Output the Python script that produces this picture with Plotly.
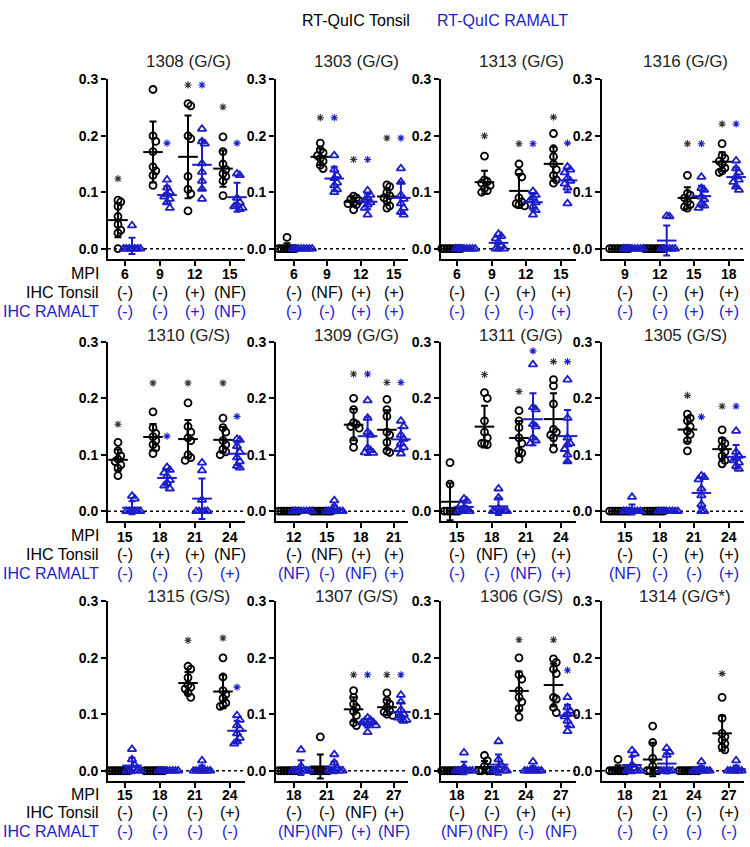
import numpy as np
import plotly.graph_objects as go

W, H = 750, 847
BLUE = "#1c1cc8"
BLACK = "#000000"
STAR_BLACK = "#333333"
FONT = "Liberation Sans, Arial, sans-serif"

# ---------------- data ----------------
panel_titles = ["1308 (G/G)", "1303 (G/G)", "1313 (G/G)", "1316 (G/G)",
                "1310 (G/S)", "1309 (G/G)", "1311 (G/G)", "1305 (G/S)",
                "1315 (G/S)", "1307 (G/S)", "1306 (G/S)", "1314 (G/G*)"]

mpi_labels = [[6, 9, 12, 15], [6, 9, 12, 15], [6, 9, 12, 15], [9, 12, 15, 18],
              [15, 18, 21, 24], [12, 15, 18, 21], [15, 18, 21, 24], [15, 18, 21, 24],
              [15, 18, 21, 24], [18, 21, 24, 27], [18, 21, 24, 27], [18, 21, 24, 27]]

ihc_tonsil = [["(-)", "(-)", "(+)", "(NF)"], ["(-)", "(NF)", "(+)", "(+)"],
              ["(-)", "(-)", "(+)", "(+)"], ["(-)", "(-)", "(+)", "(+)"],
              ["(-)", "(+)", "(+)", "(NF)"], ["(-)", "(NF)", "(+)", "(+)"],
              ["(-)", "(NF)", "(+)", "(+)"], ["(-)", "(-)", "(+)", "(+)"],
              ["(-)", "(-)", "(-)", "(+)"], ["(-)", "(-)", "(NF)", "(+)"],
              ["(-)", "(-)", "(+)", "(+)"], ["(-)", "(-)", "(-)", "(+)"]]

ihc_ramalt = [["(-)", "(-)", "(+)", "(NF)"], ["(-)", "(-)", "(+)", "(+)"],
              ["(-)", "(-)", "(-)", "(+)"], ["(-)", "(-)", "(+)", "(+)"],
              ["(-)", "(-)", "(-)", "(+)"], ["(NF)", "(-)", "(NF)", "(+)"],
              ["(-)", "(-)", "(NF)", "(+)"], ["(NF)", "(-)", "(-)", "(+)"],
              ["(-)", "(-)", "(-)", "(-)"], ["(NF)", "(NF)", "(+)", "(NF)"],
              ["(NF)", "(NF)", "(-)", "(NF)"], ["(-)", "(-)", "(-)", "(-)"]]

# RT-QuIC values (rate), 4 time points per animal
tonsil_1308 = [[0.086, 0.083, 0.075, 0.057, 0.043, 0.033, 0.028, 0.0],
               [0.282, 0.2, 0.19, 0.172, 0.145, 0.138, 0.13, 0.112],
               [0.257, 0.253, 0.2, 0.195, 0.128, 0.105, 0.097, 0.067],
               [0.198, 0.172, 0.15, 0.14, 0.133, 0.128, 0.12, 0.094]]
ramalt_1308 = [[0.041, 0.0, 0.0, 0.0, 0.0, 0.0, 0.0, 0.0],
               [0.122, 0.108, 0.1, 0.096, 0.092, 0.088, 0.082, 0.072],
               [0.212, 0.19, 0.186, 0.151, 0.136, 0.12, 0.106, 0.088],
               [0.133, 0.13, 0.09, 0.082, 0.078, 0.075, 0.072, 0.07]]

tonsil_1303 = [[0.02, 0.0, 0.0, 0.0, 0.0, 0.0, 0.0, 0.0],
               [0.187, 0.175, 0.17, 0.165, 0.16, 0.155, 0.148, 0.142],
               [0.093, 0.09, 0.088, 0.085, 0.082, 0.08, 0.078, 0.069],
               [0.113, 0.11, 0.1, 0.094, 0.09, 0.085, 0.076, 0.072]]
ramalt_1303 = [[0.0, 0.0, 0.0, 0.0, 0.0, 0.0, 0.0, 0.0],
               [0.165, 0.14, 0.13, 0.125, 0.117, 0.112, 0.105, 0.1],
               [0.103, 0.095, 0.09, 0.086, 0.082, 0.078, 0.072, 0.06],
               [0.142, 0.118, 0.095, 0.088, 0.08, 0.072, 0.065, 0.06]]

tonsil_1313 = [[0.0, 0.0, 0.0, 0.0, 0.0, 0.0, 0.0, 0.0],
               [0.164, 0.122, 0.119, 0.116, 0.112, 0.107, 0.103, 0.1],
               [0.15, 0.135, 0.127, 0.09, 0.083, 0.08, 0.078, 0.076],
               [0.204, 0.177, 0.163, 0.15, 0.14, 0.13, 0.122, 0.116]]
ramalt_1313 = [[0.0, 0.0, 0.0, 0.0, 0.0, 0.0, 0.0, 0.0],
               [0.026, 0.022, 0.018, 0.012, 0.005, 0.0, 0.0, 0.0],
               [0.102, 0.095, 0.09, 0.086, 0.082, 0.075, 0.068, 0.06],
               [0.145, 0.14, 0.135, 0.125, 0.12, 0.115, 0.108, 0.08]]

tonsil_1316 = [[0.0, 0.0, 0.0, 0.0, 0.0, 0.0, 0.0, 0.0],
               [0.0, 0.0, 0.0, 0.0, 0.0, 0.0, 0.0, 0.0],
               [0.13, 0.098, 0.095, 0.09, 0.083, 0.078, 0.074, 0.072],
               [0.186, 0.165, 0.16, 0.155, 0.15, 0.143, 0.138, 0.135]]
ramalt_1316 = [[0.0, 0.0, 0.0, 0.0, 0.0, 0.0, 0.0, 0.0],
               [0.058, 0.057, 0.0, 0.0, 0.0, 0.0, 0.0, 0.0],
               [0.127, 0.107, 0.104, 0.092, 0.087, 0.08, 0.076, 0.072],
               [0.156, 0.142, 0.135, 0.128, 0.122, 0.118, 0.11, 0.104]]

tonsil_1310 = [[0.122, 0.107, 0.098, 0.092, 0.088, 0.082, 0.076, 0.063],
               [0.176, 0.148, 0.138, 0.132, 0.125, 0.118, 0.112, 0.102],
               [0.192, 0.15, 0.14, 0.13, 0.125, 0.1, 0.095, 0.09],
               [0.165, 0.148, 0.14, 0.125, 0.118, 0.11, 0.105, 0.1]]
ramalt_1310 = [[0.027, 0.022, 0.0, 0.0, 0.0, 0.0, 0.0, 0.0],
               [0.078, 0.073, 0.068, 0.062, 0.055, 0.05, 0.045, 0.04],
               [0.086, 0.072, 0.02, 0.0, 0.0, 0.0, 0.0, 0.0],
               [0.128, 0.126, 0.115, 0.105, 0.095, 0.088, 0.08, 0.077]]

tonsil_1309 = [[0.0, 0.0, 0.0, 0.0, 0.0, 0.0, 0.0, 0.0],
               [0.0, 0.0, 0.0, 0.0, 0.0, 0.0, 0.0, 0.0],
               [0.2, 0.18, 0.157, 0.154, 0.15, 0.147, 0.125, 0.113],
               [0.198, 0.18, 0.168, 0.14, 0.135, 0.122, 0.107, 0.104]]
ramalt_1309 = [[0.0, 0.0, 0.0, 0.0, 0.0, 0.0, 0.0, 0.0],
               [0.019, 0.008, 0.0, 0.0, 0.0, 0.0, 0.0, 0.0],
               [0.196, 0.165, 0.14, 0.135, 0.112, 0.108, 0.104, 0.103],
               [0.16, 0.15, 0.135, 0.128, 0.12, 0.113, 0.11, 0.102]]

tonsil_1311 = [[0.086, 0.048, 0.0, 0.0, 0.0, 0.0, 0.0, 0.0],
               [0.21, 0.2, 0.16, 0.14, 0.13, 0.12, 0.12, 0.118],
               [0.178, 0.16, 0.148, 0.13, 0.12, 0.107, 0.103, 0.092],
               [0.233, 0.222, 0.19, 0.145, 0.14, 0.135, 0.13, 0.11]]
ramalt_1311 = [[0.022, 0.018, 0.012, 0.006, 0.003, 0.0, 0.0, 0.0],
               [0.04, 0.024, 0.005, 0.0, 0.0, 0.0, 0.0, 0.0],
               [0.26, 0.184, 0.18, 0.154, 0.15, 0.13, 0.125, 0.12],
               [0.233, 0.165, 0.13, 0.12, 0.118, 0.11, 0.1, 0.088]]

tonsil_1305 = [[0.0, 0.0, 0.0, 0.0, 0.0, 0.0, 0.0, 0.0],
               [0.0, 0.0, 0.0, 0.0, 0.0, 0.0, 0.0, 0.0],
               [0.172, 0.165, 0.16, 0.15, 0.142, 0.136, 0.125, 0.107],
               [0.144, 0.125, 0.12, 0.113, 0.105, 0.098, 0.09, 0.084]]
ramalt_1305 = [[0.025, 0.0, 0.0, 0.0, 0.0, 0.0, 0.0, 0.0],
               [0.0, 0.0, 0.0, 0.0, 0.0, 0.0, 0.0, 0.0],
               [0.063, 0.06, 0.056, 0.04, 0.028, 0.012, 0.0, 0.0],
               [0.142, 0.105, 0.098, 0.094, 0.09, 0.086, 0.08, 0.075]]

tonsil_1315 = [[0.0, 0.0, 0.0, 0.0, 0.0, 0.0, 0.0, 0.0],
               [0.0, 0.0, 0.0, 0.0, 0.0, 0.0, 0.0, 0.0],
               [0.185, 0.18, 0.165, 0.152, 0.148, 0.145, 0.138, 0.13],
               [0.2, 0.166, 0.142, 0.135, 0.128, 0.12, 0.117, 0.114]]
ramalt_1315 = [[0.038, 0.02, 0.01, 0.005, 0.0, 0.0, 0.0, 0.0],
               [0.0, 0.0, 0.0, 0.0, 0.0, 0.0, 0.0, 0.0],
               [0.018, 0.005, 0.0, 0.0, 0.0, 0.0, 0.0, 0.0],
               [0.098, 0.09, 0.08, 0.074, 0.066, 0.058, 0.052, 0.048]]

tonsil_1307 = [[0.0, 0.0, 0.0, 0.0, 0.0, 0.0, 0.0, 0.0],
               [0.06, 0.0, 0.0, 0.0, 0.0, 0.0, 0.0, 0.0],
               [0.142, 0.13, 0.118, 0.112, 0.105, 0.098, 0.085, 0.08],
               [0.138, 0.124, 0.118, 0.112, 0.106, 0.104, 0.1, 0.098]]
ramalt_1307 = [[0.037, 0.008, 0.0, 0.0, 0.0, 0.0, 0.0, 0.0],
               [0.029, 0.014, 0.005, 0.0, 0.0, 0.0, 0.0, 0.0],
               [0.094, 0.09, 0.088, 0.086, 0.085, 0.083, 0.08, 0.068],
               [0.134, 0.122, 0.108, 0.1, 0.097, 0.094, 0.09, 0.088]]

tonsil_1306 = [[0.0, 0.0, 0.0, 0.0, 0.0, 0.0, 0.0, 0.0],
               [0.027, 0.018, 0.008, 0.0, 0.0, 0.0, 0.0, 0.0],
               [0.2, 0.17, 0.162, 0.142, 0.13, 0.122, 0.11, 0.095],
               [0.198, 0.192, 0.18, 0.172, 0.13, 0.127, 0.112, 0.103]]
ramalt_1306 = [[0.032, 0.006, 0.0, 0.0, 0.0, 0.0, 0.0, 0.0],
               [0.052, 0.02, 0.01, 0.005, 0.0, 0.0, 0.0, 0.0],
               [0.016, 0.003, 0.0, 0.0, 0.0, 0.0, 0.0, 0.0],
               [0.13, 0.112, 0.106, 0.1, 0.096, 0.088, 0.08, 0.07]]

tonsil_1314 = [[0.02, 0.0, 0.0, 0.0, 0.0, 0.0, 0.0, 0.0],
               [0.079, 0.05, 0.022, 0.008, 0.0, 0.0, 0.0, 0.0],
               [0.0, 0.0, 0.0, 0.0, 0.0, 0.0, 0.0, 0.0],
               [0.13, 0.093, 0.066, 0.06, 0.054, 0.048, 0.042, 0.037]]
ramalt_1314 = [[0.036, 0.03, 0.01, 0.005, 0.0, 0.0, 0.0, 0.0],
               [0.04, 0.033, 0.028, 0.0, 0.0, 0.0, 0.0, 0.0],
               [0.016, 0.004, 0.0, 0.0, 0.0, 0.0, 0.0, 0.0],
               [0.018, 0.004, 0.0, 0.0, 0.0, 0.0, 0.0, 0.0]]

tonsil_data = [tonsil_1308, tonsil_1303, tonsil_1313, tonsil_1316,
               tonsil_1310, tonsil_1309, tonsil_1311, tonsil_1305,
               tonsil_1315, tonsil_1307, tonsil_1306, tonsil_1314]
ramalt_data = [ramalt_1308, ramalt_1303, ramalt_1313, ramalt_1316,
               ramalt_1310, ramalt_1309, ramalt_1311, ramalt_1305,
               ramalt_1315, ramalt_1307, ramalt_1306, ramalt_1314]

# significance asterisks (height of the mark, None = not significant)
tonsil_stars = [[0.124, 0.306, 0.29, 0.251], [None, 0.232, 0.158, 0.196],
                [None, 0.2, 0.186, 0.233], [None, None, 0.186, 0.221],
                [0.154, 0.227, 0.227, 0.227], [None, None, 0.243, 0.228],
                [None, 0.242, 0.212, 0.265], [None, None, 0.205, 0.186],
                [None, None, 0.231, 0.235], [None, None, 0.17, 0.17],
                [None, None, 0.232, 0.232], [None, None, None, 0.172]]
ramalt_stars = [[None, 0.187, 0.29, 0.187], [None, 0.232, 0.158, 0.196],
                [None, None, 0.186, 0.187], [None, None, 0.186, 0.221],
                [None, 0.133, None, 0.168], [None, None, 0.243, 0.228],
                [None, None, 0.284, 0.265], [None, None, 0.167, 0.186],
                [None, None, None, 0.148], [None, None, 0.17, 0.17],
                [None, None, None, 0.178], [None, None, None, None]]

# ---------------- layout geometry (pixels) ----------------
COLS = [(108, 125, 35.0, 245), (276, 294, 33.3, 408),
        (441, 457, 34.5, 576), (602, 625, 34.7, 744)]   # axis x, first center, spacing, end
ROWS = [(72, 253), (337, 518), (599, 780)]               # top (0.3), bottom axis
TITLE_Y = [54, 331, 594]
TITLE_X = [188, 356, 521, 685]
LAB_Y = [(268, 287, 306), (533, 552, 571), (794, 812, 831)]
YMAX = 0.3
PX_PER_UNIT = (ROWS[0][1] - ROWS[0][0]) / 0.3175
YMIN = -10 / PX_PER_UNIT
GROUP_OFF_PX = 7.0


def swarm(vals, step=2.8, sep=6.0):
    vals = np.asarray(vals, dtype=float)
    order = np.argsort(-vals, kind="stable")
    placed = []
    offs = np.zeros(len(vals))
    for i in order:
        y = vals[i] * PX_PER_UNIT
        used = {s for (yy, s) in placed if abs(yy - y) < sep}
        k = 0
        slot = None
        while slot is None:
            for c in ([0] if k == 0 else [k, -k]):
                if c not in used:
                    slot = c
                    break
            k += 1
        placed.append((y, slot))
        offs[i] = slot * step
    return offs


fig = go.Figure()
layout = {}
annotations = []
shapes = []

for p in range(12):
    r, c = divmod(p, 4)
    n = p + 1
    sfx = "" if n == 1 else str(n)
    ax_x, c0, sp, end = COLS[c]
    top, bot = ROWS[r]
    xr = [(ax_x - c0) / sp, (end - c0) / sp]

    layout["xaxis" + sfx] = dict(
        domain=[ax_x / W, end / W], range=xr, anchor="y" + sfx,
        tickvals=[0, 1, 2, 3], showticklabels=False,
        ticks="outside", ticklen=5, tickwidth=2, tickcolor=BLACK,
        showline=True, linewidth=2, linecolor=BLACK, showgrid=False, zeroline=False,
        fixedrange=True)
    layout["yaxis" + sfx] = dict(
        domain=[1 - bot / H, 1 - top / H], range=[YMIN, YMAX], anchor="x" + sfx,
        tickvals=[0, 0.1, 0.2, 0.3], ticktext=["0.0", "0.1", "0.2", "0.3"],
        ticks="outside", ticklen=5, tickwidth=2, tickcolor=BLACK,
        showline=True, linewidth=2, linecolor=BLACK, showgrid=False, zeroline=False,
        tickfont=dict(family=FONT, size=14, color=BLACK, weight="bold"), fixedrange=True)

    shapes.append(dict(type="line", xref="x" + sfx + " domain", x0=0, x1=1,
                       yref="y" + sfx, y0=0, y1=0, layer="below",
                       line=dict(color=BLACK, width=1.5, dash="dot")))

    off = GROUP_OFF_PX / sp
    for g, (data, stars, col, sym, scol) in enumerate([
            (tonsil_data[p], tonsil_stars[p], BLACK, "circle-open", STAR_BLACK),
            (ramalt_data[p], ramalt_stars[p], BLUE, "triangle-up-open", BLUE)]):
        sign = -1 if g == 0 else 1
        xs, ys = [], []
        mx, my, msd = [], [], []
        sx, sy = [], []
        for t in range(4):
            vals = np.array(data[t], dtype=float)
            center = t + sign * off
            o = swarm(vals) / sp
            xs.extend(center + o)
            ys.extend(vals)
            mx.append(center)
            my.append(vals.mean())
            msd.append(vals.std(ddof=1))
            if stars[t] is not None:
                sx.append(center)
                sy.append(stars[t])
        fig.add_trace(go.Scatter(
            x=xs, y=ys, mode="markers", xaxis="x" + sfx, yaxis="y" + sfx,
            marker=dict(symbol=sym, size=7 if g == 0 else 7.5, color=col,
                        line=dict(color=col, width=1.8)),
            cliponaxis=False, showlegend=False, hoverinfo="skip"))
        fig.add_trace(go.Scatter(
            x=mx, y=my, mode="markers", xaxis="x" + sfx, yaxis="y" + sfx,
            marker=dict(symbol="line-ew-open", size=14, color=col,
                        line=dict(color=col, width=2)),
            error_y=dict(type="data", array=msd, visible=True, color=col,
                         thickness=2, width=3.5),
            cliponaxis=False, showlegend=False, hoverinfo="skip"))
        if sx:
            fig.add_trace(go.Scatter(
                x=sx, y=sy, mode="markers", xaxis="x" + sfx, yaxis="y" + sfx,
                marker=dict(symbol="asterisk-open", size=6, color=scol,
                            line=dict(color=scol, width=1.1)),
                cliponaxis=False, showlegend=False, hoverinfo="skip"))

    # panel title
    annotations.append(dict(x=TITLE_X[c] / W, y=1 - TITLE_Y[r] / H, xref="paper", yref="paper",
                            text=panel_titles[p], showarrow=False, xanchor="center",
                            yanchor="middle", font=dict(family=FONT, size=17, color="#222222")))
    # MPI and IHC labels under each time point
    for t in range(4):
        annotations.append(dict(x=t, y=1 - (LAB_Y[r][0] + 1) / H, xref="x" + sfx, yref="paper",
                                text=str(mpi_labels[p][t]), showarrow=False, xanchor="center",
                                yanchor="middle",
                                font=dict(family=FONT, size=14, color=BLACK, weight="bold")))
        annotations.append(dict(x=t, y=1 - LAB_Y[r][1] / H, xref="x" + sfx, yref="paper",
                                text=ihc_tonsil[p][t], showarrow=False, xanchor="center",
                                yanchor="middle", font=dict(family=FONT, size=16, color=BLACK)))
        annotations.append(dict(x=t, y=1 - LAB_Y[r][2] / H, xref="x" + sfx, yref="paper",
                                text=ihc_ramalt[p][t], showarrow=False, xanchor="center",
                                yanchor="middle", font=dict(family=FONT, size=16, color=BLUE)))

# row labels
for r in range(3):
    for k, (txt, col) in enumerate([("MPI", BLACK), ("IHC Tonsil", BLACK), ("IHC RAMALT", BLUE)]):
        annotations.append(dict(x=101 / W, y=1 - LAB_Y[r][k] / H, xref="paper", yref="paper",
                                text=txt, showarrow=False, xanchor="right", yanchor="middle",
                                font=dict(family=FONT, size=16, color=col)))

# header legend
annotations.append(dict(x=356 / W, y=1 - 13 / H, xref="paper", yref="paper", text="RT-QuIC Tonsil",
                        showarrow=False, xanchor="center", yanchor="middle",
                        font=dict(family=FONT, size=16, color=BLACK)))
annotations.append(dict(x=502 / W, y=1 - 13 / H, xref="paper", yref="paper", text="RT-QuIC RAMALT",
                        showarrow=False, xanchor="center", yanchor="middle",
                        font=dict(family=FONT, size=16, color=BLUE)))

fig.update_layout(
    width=W, height=H, margin=dict(l=0, r=0, t=0, b=0),
    paper_bgcolor="white", plot_bgcolor="white", showlegend=False,
    annotations=annotations, shapes=shapes, **layout)

fig.write_html("out.html", config={"displayModeBar": False},
               post_script="document.body.style.margin='0';document.body.style.padding='0';")
